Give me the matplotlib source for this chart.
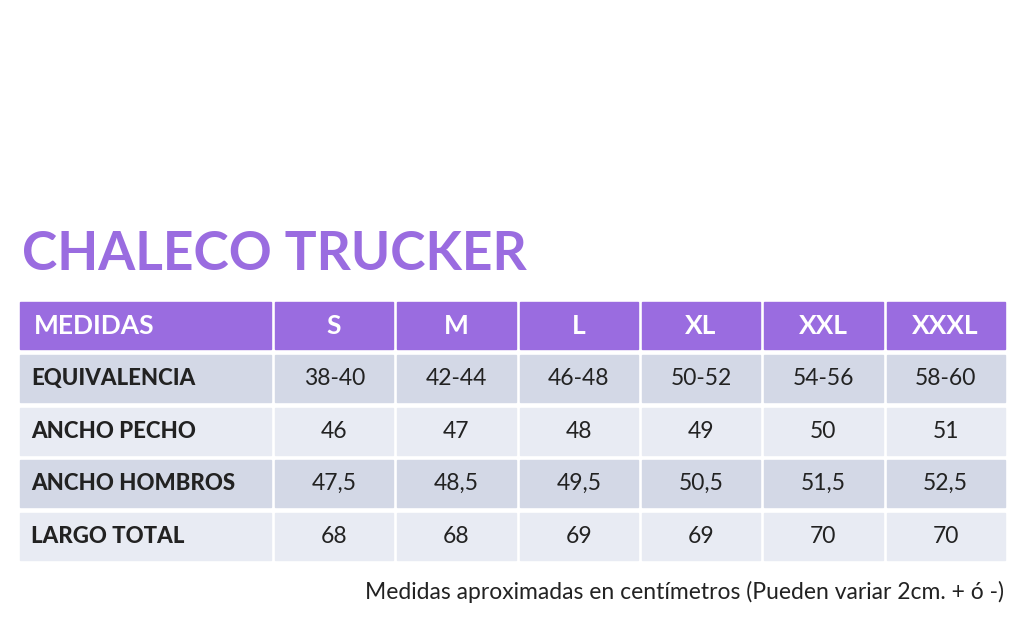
import matplotlib.pyplot as plt
from matplotlib.patches import Rectangle

title = "CHALECO TRUCKER"
sizes = ["S", "M", "L", "XL", "XXL", "XXXL"]
row_labels = ["EQUIVALENCIA", "ANCHO PECHO", "ANCHO HOMBROS", "LARGO TOTAL"]
equivalencia = ["38-40", "42-44", "46-48", "50-52", "54-56", "58-60"]
ancho_pecho = ["46", "47", "48", "49", "50", "51"]
ancho_hombros = ["47,5", "48,5", "49,5", "50,5", "51,5", "52,5"]
largo_total = ["68", "68", "69", "69", "70", "70"]
rows = [equivalencia, ancho_pecho, ancho_hombros, largo_total]
note = "Medidas aproximadas en centímetros (Pueden variar 2cm. + ó -)"

PURPLE = "#9a6ce0"
DARK = "#d3d8e6"
LIGHT = "#e8ebf3"
TEXT = "#222222"

plt.rcParams['font.family'] = ['Lato', 'DejaVu Sans']
fig = plt.figure(figsize=(10.24, 6.22), dpi=100)
ax = fig.add_axes([0, 0, 1, 1])
ax.set_xlim(0, 1024)
ax.set_ylim(622, 0)
ax.axis('off')

x0, first_w, col_w, gap = 20, 251, 118.3, 4
row_tops = [302, 355, 408, 460, 513]
row_h = 47


def col_x(i):
    return x0 + first_w + gap + i * (col_w + gap)


ax.text(22, 255, title, color=PURPLE, fontsize=38.3, fontweight='bold', va='center', ha='left')

# header
y = row_tops[0]
ax.add_patch(Rectangle((x0, y), first_w, row_h, color=PURPLE))
ax.text(x0 + 14, y + row_h / 2, "MEDIDAS", color='white', fontsize=19, fontweight='bold', va='center')
for i, s in enumerate(sizes):
    ax.add_patch(Rectangle((col_x(i), y), col_w, row_h, color=PURPLE))
    ax.text(col_x(i) + col_w / 2, y + row_h / 2, s, color='white', fontsize=19, fontweight='bold',
            va='center', ha='center')

for r, (lab, vals) in enumerate(zip(row_labels, rows)):
    y = row_tops[r + 1]
    c = DARK if r % 2 == 0 else LIGHT
    ax.add_patch(Rectangle((x0, y), first_w, row_h, color=c))
    ax.text(x0 + 11, y + row_h / 2, lab, color=TEXT, fontsize=16, fontweight='black', va='center')
    for i, v in enumerate(vals):
        ax.add_patch(Rectangle((col_x(i), y), col_w, row_h, color=c))
        ax.text(col_x(i) + col_w / 2, y + row_h / 2, v, color=TEXT, fontsize=16.5,
                va='center', ha='center')

ax.text(1004, 592, note, color=TEXT, fontsize=16.5, va='center', ha='right')

fig.savefig("out.png", dpi=100)
